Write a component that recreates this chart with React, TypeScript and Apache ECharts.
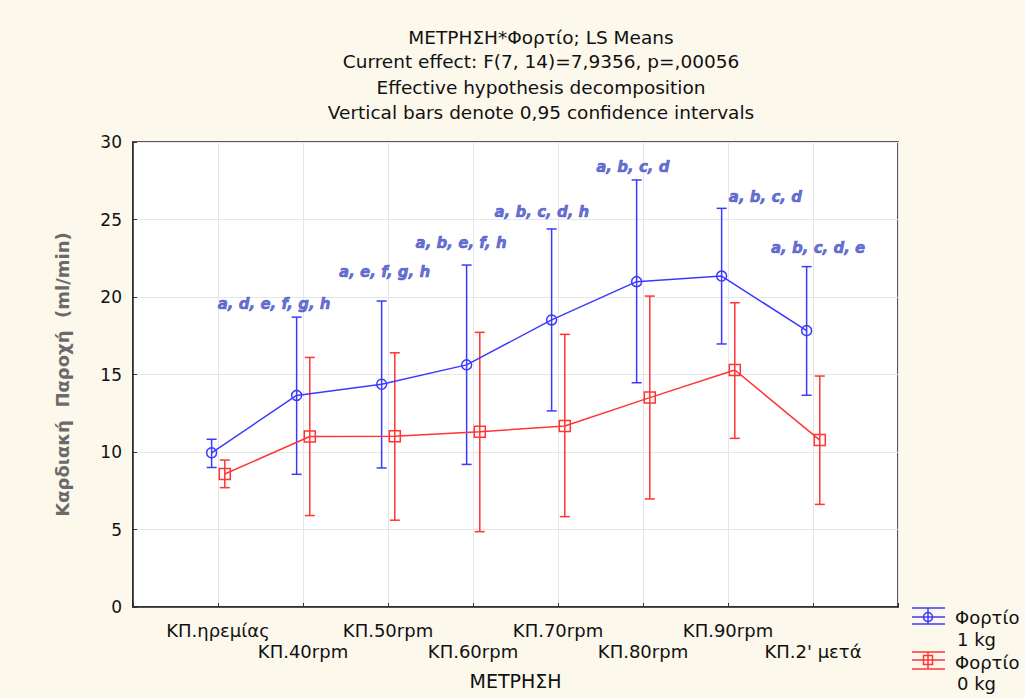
import React, { useEffect, useRef } from 'react';
import * as echarts from 'echarts';

// ---- Data ----
const categories = ['ΚΠ.ηρεμίας', 'ΚΠ.40rpm', 'ΚΠ.50rpm', 'ΚΠ.60rpm', 'ΚΠ.70rpm', 'ΚΠ.80rpm', 'ΚΠ.90rpm', "ΚΠ.2' μετά"];

const load1Mean = [9.95, 13.65, 14.37, 15.62, 18.52, 20.99, 21.35, 17.83];
const load1Low = [9.0, 8.56, 8.97, 9.2, 12.65, 14.47, 16.97, 13.66];
const load1High = [10.82, 18.7, 19.74, 22.06, 24.39, 27.55, 25.72, 21.96];

const load0Mean = [8.58, 11.0, 11.02, 11.31, 11.68, 13.51, 15.29, 10.77];
const load0Low = [7.7, 5.9, 5.6, 4.86, 5.83, 6.97, 10.88, 6.62];
const load0High = [9.48, 16.1, 16.4, 17.72, 17.59, 20.06, 19.63, 14.9];

const annotLabels = ['a, d, e, f, g, h', 'a, e, f, g, h', 'a, b, e, f, h', 'a, b, c, d, h', 'a, b, c, d', 'a, b, c, d', 'a, b, c, d, e'];
const annotX = [1.66, 2.96, 3.86, 4.81, 5.88, 7.44, 8.06];
const annotY = [19.55, 21.6, 23.48, 25.48, 28.39, 26.45, 23.16];

const yTicks = { min: 0, max: 30, interval: 5 };

const titleLines = [
  'ΜΕΤΡΗΣΗ*Φορτίο; LS Means',
  'Current effect: F(7, 14)=7,9356, p=,00056',
  'Effective hypothesis decomposition',
  'Vertical bars denote 0,95 confidence intervals',
];

const BLUE = '#3a3aff';
const RED = '#ff3434';
const ANNOT = '#3e4bc6';
const FONT = 'DejaVu Sans';
const OFF1 = -0.075;
const OFF0 = 0.08;

function errorSeries(name: string, xs: number[], lows: number[], highs: number[], color: string) {
  return {
    type: 'custom',
    name,
    silent: true,
    z: 2,
    data: xs.map((x, i) => [x, lows[i], highs[i]]),
    encode: { x: 0, y: [1, 2] },
    renderItem: (_params: any, api: any) => {
      const x = api.value(0);
      const p1 = api.coord([x, api.value(2)]);
      const p2 = api.coord([x, api.value(1)]);
      const w = 5;
      const st = { stroke: color, lineWidth: 1.5 };
      return {
        type: 'group',
        children: [
          { type: 'line', shape: { x1: p1[0], y1: p1[1], x2: p2[0], y2: p2[1] }, style: st },
          { type: 'line', shape: { x1: p1[0] - w, y1: p1[1], x2: p1[0] + w, y2: p1[1] }, style: st },
          { type: 'line', shape: { x1: p2[0] - w, y1: p2[1], x2: p2[0] + w, y2: p2[1] }, style: st },
        ],
      };
    },
  };
}

export default function App() {
  const ref = useRef<HTMLDivElement>(null);
  useEffect(() => {
    const chart = echarts.init(ref.current!, null, { renderer: 'svg' });
    const x1 = categories.map((_, i) => i + 1 + OFF1);
    const x0 = categories.map((_, i) => i + 1 + OFF0);

    const txt = (text: string, x: number, y: number, size: number, align = 'center', fill = '#111') => ({
      type: 'text',
      x,
      y,
      silent: true,
      style: { text, align, verticalAlign: 'middle', fontSize: size, fontFamily: FONT, fill },
    });
    const ln = (x1: number, y1: number, x2: number, y2: number, color: string) => ({
      type: 'line',
      silent: true,
      shape: { x1, y1, x2, y2 },
      style: { stroke: color, lineWidth: 1.5 },
    });

    chart.setOption({
      animation: false,
      backgroundColor: '#fcf8ec',
      grid: {
        left: 133,
        right: 127,
        top: 142,
        bottom: 92,
        show: true,
        backgroundColor: '#ffffff',
        borderColor: '#222',
        borderWidth: 1.5,
      },
      xAxis: {
        type: 'value',
        min: 0,
        max: 9,
        interval: 1,
        name: 'ΜΕΤΡΗΣΗ',
        nameLocation: 'middle',
        nameGap: 64,
        nameTextStyle: { fontSize: 19, fontFamily: FONT, color: '#111' },
        axisLine: { show: true, lineStyle: { color: '#222', width: 1.5 } },
        axisTick: { show: true, inside: true, length: 4, lineStyle: { color: '#333' } },
        splitLine: { show: true, lineStyle: { color: '#e6e6e6', width: 1 } },
        axisLabel: {
          fontSize: 18,
          fontFamily: FONT,
          color: '#111',
          lineHeight: 21,
          margin: 13,
          formatter: (v: number) => {
            const i = Math.round(v);
            if (i < 1 || i > categories.length) return '';
            return i % 2 === 0 ? '\n' + categories[i - 1] : categories[i - 1];
          },
        },
      },
      yAxis: {
        type: 'value',
        min: yTicks.min,
        max: yTicks.max,
        interval: yTicks.interval,
        name: 'Καρδιακή  Παροχή  (ml/min)',
        nameLocation: 'middle',
        nameGap: 62,
        nameTextStyle: { fontSize: 18, fontFamily: FONT, fontWeight: 'bold', color: '#6a6a6a' },
        axisLine: { show: true, lineStyle: { color: '#222', width: 1.5 } },
        axisTick: { show: true, inside: true, length: 4, lineStyle: { color: '#333' } },
        splitLine: { show: true, lineStyle: { color: '#e6e6e6', width: 1 } },
        axisLabel: { fontSize: 17, fontFamily: FONT, color: '#111', margin: 11 },
      },
      series: [
        errorSeries('err1', x1, load1Low, load1High, BLUE),
        errorSeries('err0', x0, load0Low, load0High, RED),
        {
          type: 'line',
          name: 'Φορτίο 1 kg',
          z: 3,
          data: x1.map((x, i) => [x, load1Mean[i]]),
          symbol: 'circle',
          symbolSize: 10,
          lineStyle: { color: BLUE, width: 1.5 },
          itemStyle: { color: 'rgba(255,255,255,0)', borderColor: BLUE, borderWidth: 1.5 },
        },
        {
          type: 'line',
          name: 'Φορτίο 0 kg',
          z: 3,
          data: x0.map((x, i) => [x, load0Mean[i]]),
          symbol: 'rect',
          symbolSize: 11,
          lineStyle: { color: RED, width: 1.5 },
          itemStyle: { color: 'rgba(255,255,255,0)', borderColor: RED, borderWidth: 1.5 },
        },
        {
          type: 'scatter',
          name: 'annotations',
          z: 4,
          silent: true,
          symbolSize: 1,
          itemStyle: { color: 'rgba(0,0,0,0)' },
          data: annotX.map((x, i) => [x, annotY[i]]),
          label: {
            show: true,
            position: 'inside',
            formatter: (p: any) => annotLabels[p.dataIndex],
            fontFamily: FONT,
            fontWeight: 'bold',
            fontStyle: 'italic',
            fontSize: 15,
            color: ANNOT,
            textBorderColor: ANNOT,
            textBorderWidth: 0.6,
          },
        },
      ],
      graphic: [
        txt(titleLines[0], 541, 37, 18.5),
        txt(titleLines[1], 541, 61, 18.5),
        txt(titleLines[2], 541, 87, 18.5),
        txt(titleLines[3], 541, 112, 18.5),
        // legend: load 1 kg
        ln(912, 608, 945, 608, BLUE),
        ln(912, 617, 945, 617, BLUE),
        ln(912, 624, 945, 624, BLUE),
        ln(928, 608, 928, 624, BLUE),
        { type: 'circle', silent: true, shape: { cx: 928, cy: 617, r: 4.5 }, style: { fill: 'none', stroke: BLUE, lineWidth: 1.5 } },
        txt('Φορτίο', 955, 617, 18, 'left'),
        txt('1 kg', 957, 639, 18, 'left'),
        // legend: load 0 kg
        ln(912, 652, 945, 652, RED),
        ln(912, 660, 945, 660, RED),
        ln(912, 669, 945, 669, RED),
        ln(928, 652, 928, 669, RED),
        { type: 'rect', silent: true, shape: { x: 923.5, y: 655.5, width: 9, height: 9 }, style: { fill: 'none', stroke: RED, lineWidth: 1.5 } },
        txt('Φορτίο', 955, 662, 18, 'left'),
        txt('0 kg', 957, 683, 18, 'left'),
      ],
    });
    return () => chart.dispose();
  }, []);
  return (
    <div
      ref={ref}
      style={{ position: 'absolute', left: 0, top: 0, width: 1025, height: 699 }}
    />
  );
}
